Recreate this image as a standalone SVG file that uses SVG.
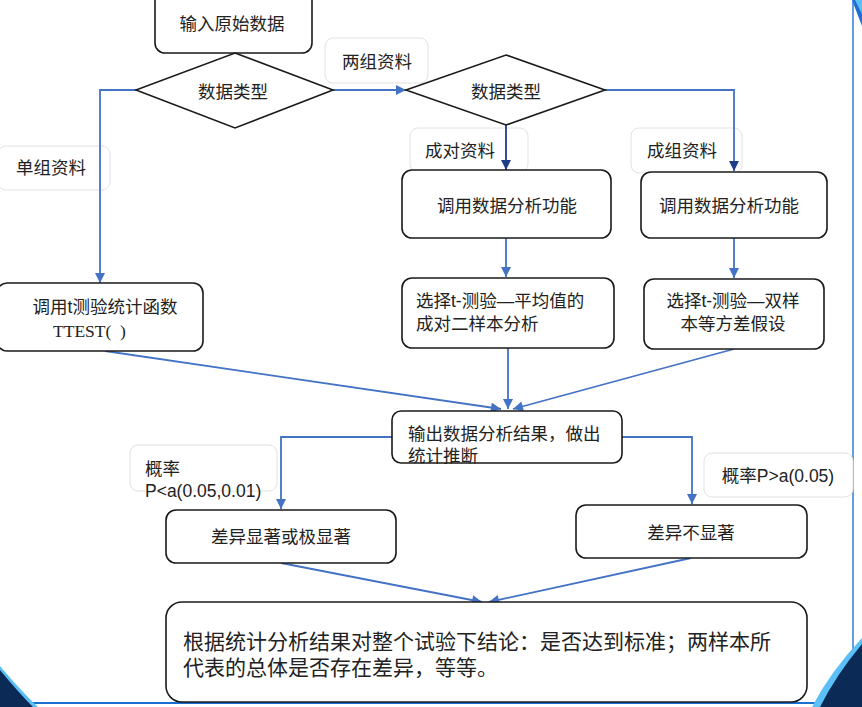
<svg xmlns="http://www.w3.org/2000/svg" width="862" height="707" viewBox="0 0 862 707">
<style>
.node{fill:#fff;stroke:#1a1a1a;stroke-width:1.6}
.lab{fill:#fff;stroke:#e2e2e2;stroke-width:1}
.t{font-family:"Liberation Sans","Noto Sans CJK SC",sans-serif;font-size:17.5px;fill:#222}
.big{font-size:21px}
.c{text-anchor:middle}
.con{fill:none;stroke:#4472C4;stroke-width:1.8}
.navy{fill:none;stroke:#1F3C88;stroke-width:1.8}
</style>
<defs>
<marker id="ah" viewBox="0 0 10 10" refX="10" refY="5" markerWidth="11" markerHeight="10" markerUnits="userSpaceOnUse" orient="auto"><path d="M0,0 L10,5 L0,10 z" fill="#4472C4"/></marker>
<marker id="ahn" viewBox="0 0 10 10" refX="10" refY="5" markerWidth="11" markerHeight="10" markerUnits="userSpaceOnUse" orient="auto"><path d="M0,0 L10,5 L0,10 z" fill="#1F3C88"/></marker>
</defs>
<rect width="862" height="707" fill="#fff"/>
<g id="background">
<path d="M852,0 L862,0 L862,26 Z" fill="#1E6FD0"/>
<path d="M855,0 L862,0 L862,14 Z" fill="#5BC0F8"/>
<line x1="853" y1="0" x2="853" y2="704" stroke="#2F7BD8" stroke-width="1.5"/>
<line x1="0" y1="703" x2="855" y2="703" stroke="#1A6FD0" stroke-width="2"/>
<path d="M0,666 Q20,690 38,707 L0,707 Z" fill="#5BC0F8"/>
<path d="M0,670 Q18,692 33,707 L0,707 Z" fill="#0B2A55"/>
<path d="M862,638 Q830,672 812,707 L862,707 Z" fill="#5BC0F8"/>
<path d="M862,644 Q836,675 820,707 L862,707 Z" fill="#0B2A55"/>
</g>
<g id="labels">
<g id="lab-two"><rect class="lab" x="325" y="38" width="103" height="45" rx="8"/><text class="t c" x="377" y="67.5">两组资料</text></g>
<g id="lab-single"><rect class="lab" x="-2" y="146" width="112" height="44" rx="8"/><text class="t c" x="51" y="174">单组资料</text></g>
<g id="lab-paired"><rect class="lab" x="410" y="128" width="118" height="44" rx="8"/><text class="t c" x="460" y="156.5">成对资料</text></g>
<g id="lab-group"><rect class="lab" x="631" y="128" width="111" height="45" rx="8"/><text class="t c" x="682" y="156.5">成组资料</text></g>
<g id="lab-plow"><rect class="lab" x="130" y="445" width="147" height="46" rx="8"/><text class="t" x="145" y="475">概率</text><text class="t" x="145" y="497">P&lt;a(0.05,0.01)</text></g>
<g id="lab-phigh"><rect class="lab" x="704" y="453" width="149" height="44" rx="8"/><text class="t c" x="778" y="482">概率P&gt;a(0.05)</text></g>
</g>
<g id="connectors">
<path class="con" d="M333,90 H406" marker-end="url(#ah)"/>
<path class="con" d="M136,90 H100 V283" marker-end="url(#ah)"/>
<path class="navy" d="M506,125 V170" marker-end="url(#ahn)"/>
<path class="con" d="M605,90 H734 V171" marker-end="url(#ahn)"/>
<path class="con" d="M506,238 V277" marker-end="url(#ah)"/>
<path class="con" d="M734,238 V278" marker-end="url(#ah)"/>
<path class="con" d="M105,351 L501,409" marker-end="url(#ah)"/>
<path class="con" d="M508,348 V409" marker-end="url(#ah)"/>
<path class="con" d="M734,349 L513,409" marker-end="url(#ah)"/>
<path class="con" d="M392,437 H281 V509" marker-end="url(#ah)"/>
<path class="con" d="M622,437 H692 V504" marker-end="url(#ah)"/>
<path class="con" d="M281,563 L482,602" marker-end="url(#ah)"/>
<path class="con" d="M691,558 L489,602" marker-end="url(#ah)"/>
</g>
<g id="n-input"><rect class="node" x="155" y="-10" width="157" height="63" rx="10"/><text class="t c" x="232" y="30">输入原始数据</text></g>
<g id="n-type1"><path class="node" d="M235,53 L333,90 L235,128 L136,90 Z"/><text class="t c" x="233" y="97.5">数据类型</text></g>
<g id="n-type2"><path class="node" d="M506,55 L605,90 L506,125 L406,90 Z"/><text class="t c" x="506" y="97.5">数据类型</text></g>
<g id="n-ttest"><rect class="node" x="-3" y="283" width="206" height="68" rx="10"/><text class="t c" x="105" y="312.5">调用t测验统计函数</text><text x="53" y="337" xml:space="preserve" font-family="Liberation Serif,serif" font-size="17.5" fill="#222">TTEST(  )</text></g>
<g id="n-call1"><rect class="node" x="402" y="170" width="209" height="68" rx="10"/><text class="t c" x="507" y="211.5">调用数据分析功能</text></g>
<g id="n-call2"><rect class="node" x="641" y="172" width="186" height="66" rx="10"/><text class="t c" x="729" y="211.5">调用数据分析功能</text></g>
<g id="n-paired"><rect class="node" x="402" y="278" width="212" height="70" rx="10"/><text class="t" x="416" y="307">选择t-测验—平均值的</text><text class="t" x="416" y="329.5">成对二样本分析</text></g>
<g id="n-equal"><rect class="node" x="644" y="279" width="180" height="70" rx="10"/><text class="t c" x="733" y="307">选择t-测验—双样</text><text class="t c" x="733" y="329.5">本等方差假设</text></g>
<g id="n-output"><rect class="node" x="392" y="411" width="230" height="52" rx="9"/><text class="t" x="408" y="440">输出数据分析结果，做出</text><text class="t" x="408" y="462">统计推断</text></g>
<g id="n-sig"><rect class="node" x="166" y="510" width="230" height="53" rx="10"/><text class="t c" x="281" y="543">差异显著或极显著</text></g>
<g id="n-nosig"><rect class="node" x="576" y="505" width="231" height="53" rx="10"/><text class="t c" x="691" y="538.5">差异不显著</text></g>
<g id="n-final"><rect class="node" x="166" y="602" width="641" height="100" rx="16"/><text class="t big" x="183" y="649">根据统计分析结果对整个试验下结论：是否达到标准；两样本所</text><text class="t big" x="183" y="675">代表的总体是否存在差异，等等。</text></g>
</svg>
